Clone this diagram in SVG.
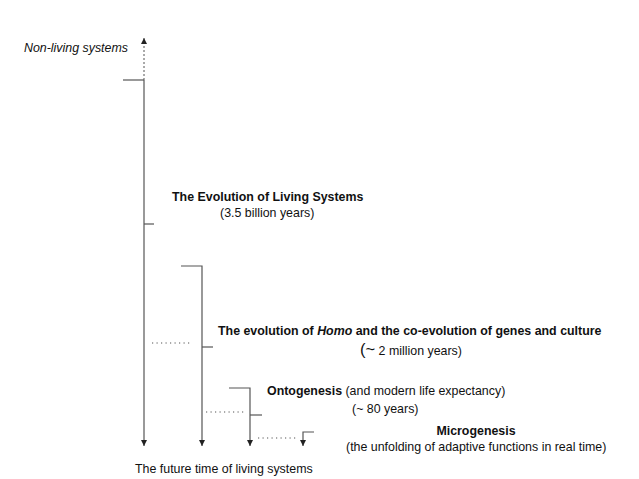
<svg xmlns="http://www.w3.org/2000/svg" width="639" height="479" viewBox="0 0 639 479">
<style>
.ln{stroke:#555;stroke-width:1.2;fill:none}
.dash{stroke:#555;stroke-width:1;fill:none;stroke-dasharray:2,2}
.dot{stroke:#555;stroke-width:1.2;fill:none;stroke-dasharray:1.2,3.3}
text{font-family:"Liberation Sans",Arial,sans-serif;font-size:12.4px;fill:#111}
.b{font-weight:bold}
.i{font-style:italic}
</style>
<defs>
<marker id="ah" viewBox="0 0 6 6" refX="6" refY="3" markerWidth="6" markerHeight="6" markerUnits="userSpaceOnUse" orient="auto">
<path d="M0,0 L6,3 L0,6 Z" fill="#222"/>
</marker>
</defs>
<rect width="639" height="479" fill="#fff"/>
<g id="connectors">
<line class="dash" x1="144" y1="80" x2="144" y2="38" marker-end="url(#ah)"/>
<line class="ln" x1="123" y1="80" x2="144" y2="80"/>
<line class="ln" x1="144" y1="80" x2="144" y2="446" marker-end="url(#ah)"/>
<line class="ln" x1="144" y1="224" x2="154" y2="224"/>
<polyline class="ln" points="181,266 202,266 202,446" marker-end="url(#ah)"/>
<line class="ln" x1="202" y1="347" x2="213" y2="347"/>
<line class="dot" x1="152" y1="343" x2="191" y2="343"/>
<polyline class="ln" points="229,388 250,388 250,446" marker-end="url(#ah)"/>
<line class="ln" x1="250" y1="415" x2="262" y2="415"/>
<line class="dot" x1="206" y1="412" x2="244" y2="412"/>
<polyline class="ln" points="314,432 303,432 303,446" marker-end="url(#ah)"/>
<line class="dot" x1="258" y1="438" x2="296" y2="438"/>
</g>
<g id="nonliving">
<text class="i" x="24" y="52">Non-living systems</text>
</g>
<g id="living">
<text class="b" x="172" y="201">The Evolution of Living Systems</text>
<text x="220" y="217">(3.5 billion years)</text>
</g>
<g id="homo">
<text class="b" x="218" y="335">The evolution of <tspan class="i">Homo</tspan> and the co-evolution of genes and culture</text>
<text x="360" y="355"><tspan font-size="16.5">(~</tspan> 2 million years)</text>
</g>
<g id="ontogenesis">
<text x="267" y="395"><tspan class="b">Ontogenesis</tspan> (and modern life expectancy)</text>
<text x="352" y="413">(~ 80 years)</text>
</g>
<g id="microgenesis">
<text class="b" x="476" y="435" text-anchor="middle">Microgenesis</text>
<text x="346" y="451">(the unfolding of adaptive functions in real time)</text>
</g>
<g id="future">
<text x="135" y="473">The future time of living systems</text>
</g>
</svg>
